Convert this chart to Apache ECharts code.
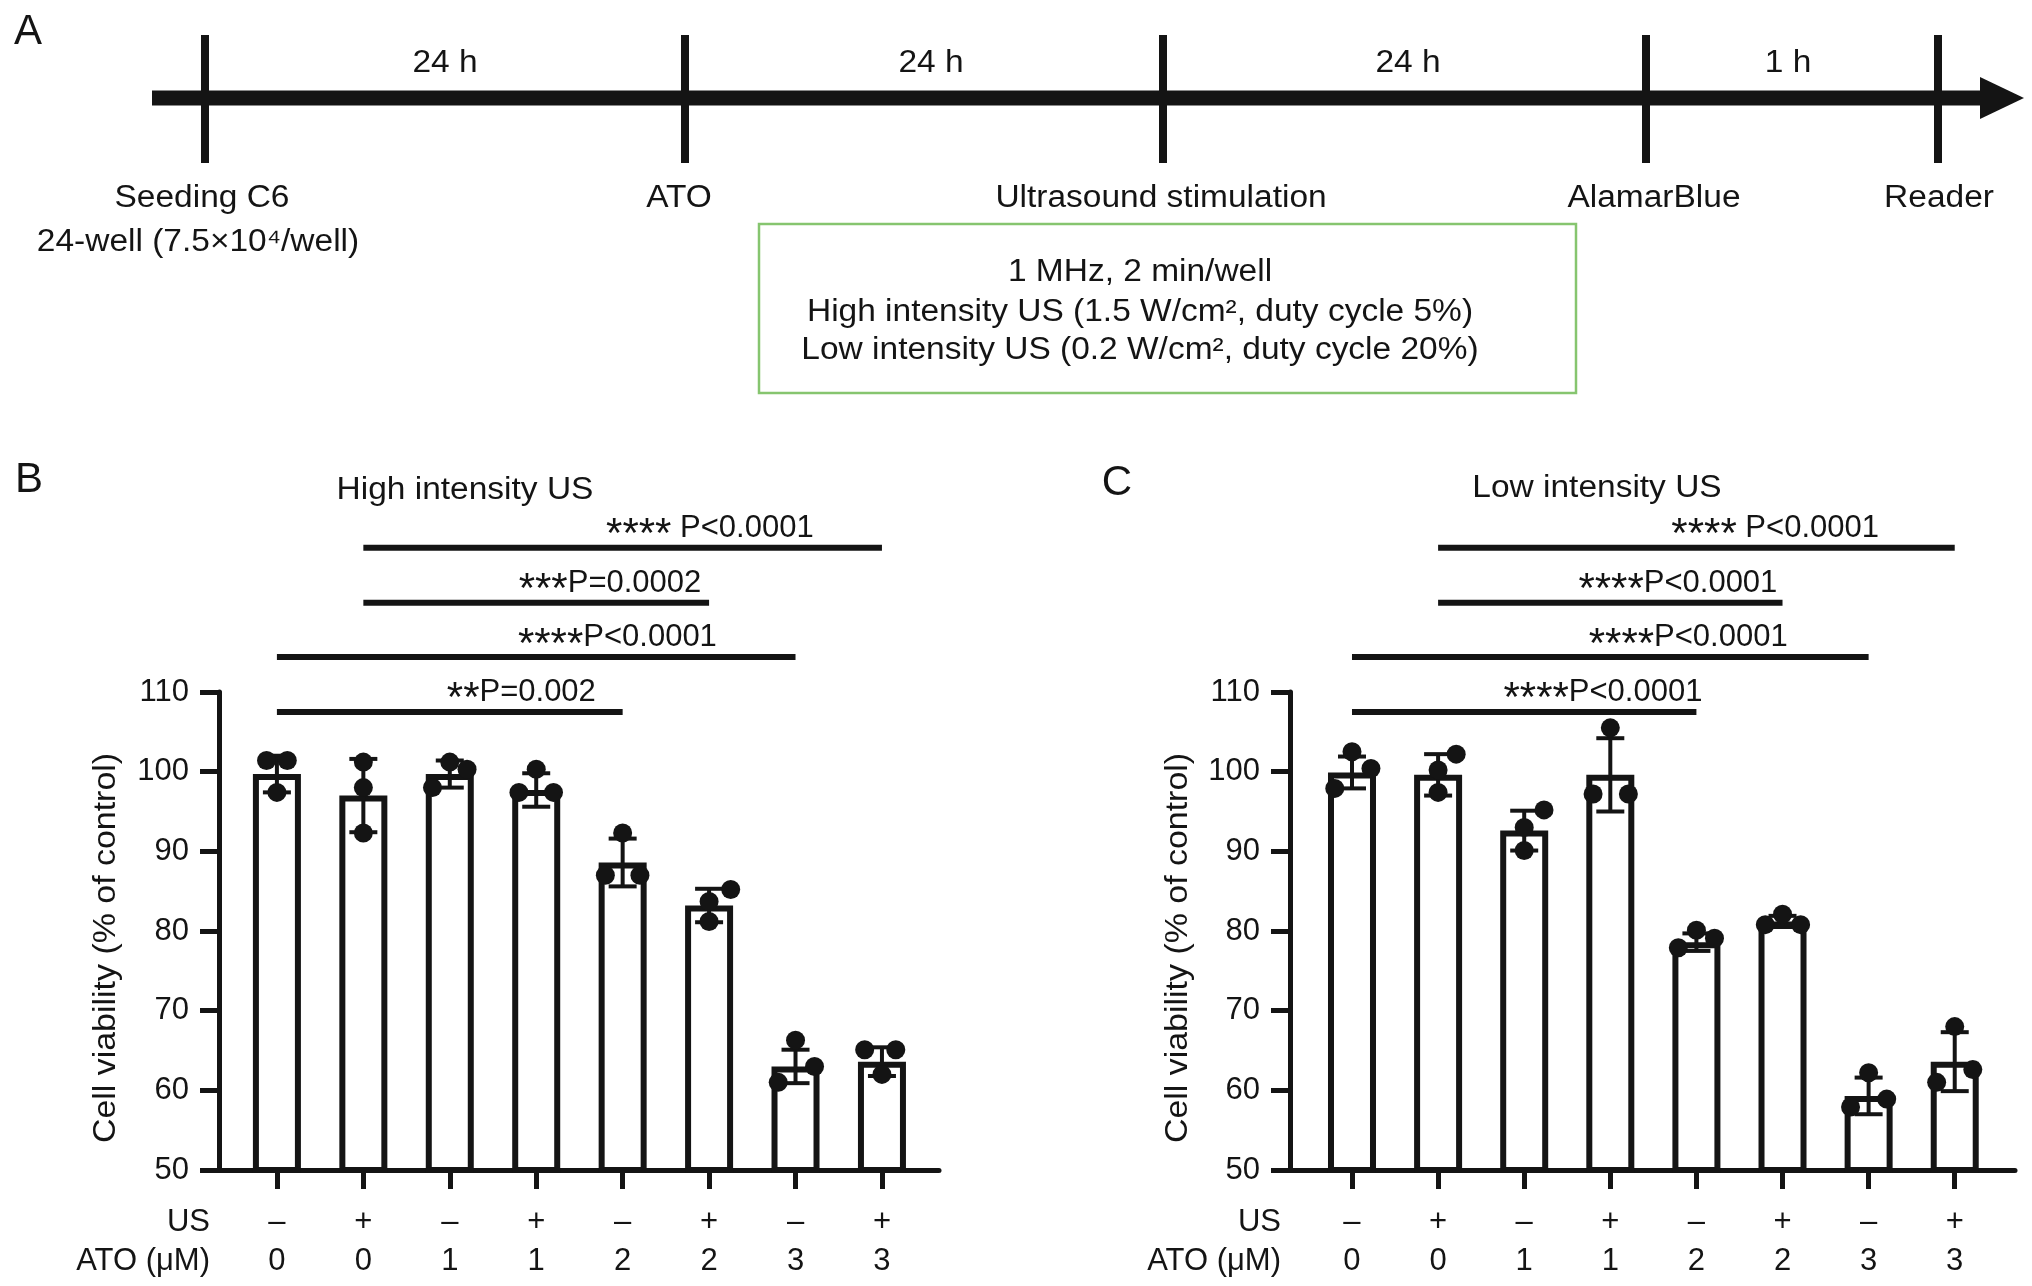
<!DOCTYPE html>
<html>
<head>
<meta charset="utf-8">
<script src="https://cdn.jsdelivr.net/npm/echarts@6/dist/echarts.min.js"></script>
<style>
html, body { margin: 0; padding: 0; background: #fff; }
#chart { width: 2032px; height: 1286px; }
</style>
</head>
<body>
<div id="chart"></div>
<script>
// ---- data ----
var usRow = ['–', '+', '–', '+', '–', '+', '–', '+'];
var atoRow = ['0', '0', '1', '1', '2', '2', '3', '3'];

// high intensity US (panel B)
var meanHigh = [99.7, 97.0, 99.7, 97.7, 88.6, 83.2, 63.0, 63.6];
var sdHigh = [2.3, 4.6, 1.7, 2.1, 3.0, 2.1, 2.1, 1.8];
var ptsHigh = [
	[101.4, 101.4, 97.4], [101.2, 98.0, 92.3], [101.2, 100.3, 98.0], [100.3, 97.4, 97.4],
	[92.3, 87.0, 87.0], [85.2, 83.7, 81.2], [66.3, 63.0, 61.0], [65.1, 65.1, 62.0]
];
// low intensity US (panel C)
var meanLow = [99.9, 99.6, 92.6, 99.6, 78.6, 81.2, 59.3, 63.6];
var sdLow = [2.0, 2.6, 2.5, 4.6, 1.1, 0.7, 2.3, 3.7];
var ptsLow = [
	[102.5, 100.4, 97.9], [102.2, 100.2, 97.4], [95.2, 93.0, 90.1], [105.5, 97.2, 97.2],
	[80.1, 79.1, 77.9], [82.1, 80.8, 80.8], [62.2, 58.9, 57.9], [68.0, 62.6, 61.0]
];

// significance comparisons (bar index pairs), bottom to top
var compPairs = [[0, 4], [0, 6], [1, 5], [1, 7]];
var starsHigh = ['**', '****', '***', '****'];
var pHigh = ['P=0.002', 'P<0.0001', 'P=0.0002', ' P<0.0001'];
var starsLow = ['****', '****', '****', '****'];
var pLow = ['P<0.0001', 'P<0.0001', 'P<0.0001', ' P<0.0001'];

// timeline (panel A)
var events = ['Seeding C6', 'ATO', 'Ultrasound stimulation', 'AlamarBlue', 'Reader'];
var durations = ['24 h', '24 h', '24 h', '1 h'];
var usParams = ['1 MHz, 2 min/well', 'High intensity US (1.5 W/cm², duty cycle 5%)', 'Low intensity US (0.2 W/cm², duty cycle 20%)'];

// ---- layout (not data) ----
var FONT = '"Liberation Sans", Arial, sans-serif';
var INK = '#141414';
var WIDE = 1.08;
var jitHigh = [[-0.12, 0.12, 0], [0, 0, 0], [0, 0.2, -0.2], [0, 0.2, -0.2], [0, -0.2, 0.2], [0.25, 0, 0], [0, 0.22, -0.2], [-0.2, 0.16, 0]];
var jitLow = [[0, 0.22, -0.2], [0.21, 0, 0], [0.23, 0, 0], [0, -0.2, 0.21], [0, 0.21, -0.21], [0, -0.2, 0.21], [0, 0.21, -0.21], [0, 0.21, -0.21]];
var sigLevels = [107.5, 114.4, 121.2, 128.1];
var sigTextHigh = [3.69, 5.09, 4.91, 6.21];
var sigTextLow = [4.07, 5.06, 4.94, 6.12];
var tickX = [205, 685, 1163, 1646, 1938];
var durX = [445, 931, 1408, 1788];
var eventX = [202, 679, 1161, 1654, 1939];

var chart = echarts.init(document.getElementById('chart'));

function xAxisFor(idx, min, max) {
	return {
		type: 'value', gridIndex: idx, min: min, max: max,
		splitLine: { show: false },
		axisLine: { show: true, onZero: false, lineStyle: { color: INK, width: 5 } },
		axisTick: { show: true, customValues: [0, 1, 2, 3, 4, 5, 6, 7], length: 19, lineStyle: { color: INK, width: 5 } },
		axisLabel: {
			customValues: [0, 1, 2, 3, 4, 5, 6, 7],
			margin: 33,
			fontFamily: FONT, fontSize: 31, color: INK, lineHeight: 39,
			formatter: function (v) {
				var i = Math.round(v);
				return usRow[i] + '\n' + atoRow[i];
			}
		}
	};
}
function yAxisFor(idx) {
	return {
		type: 'value', gridIndex: idx, min: 50, max: 110, interval: 10,
		splitLine: { show: false },
		axisLine: { show: true, onZero: false, lineStyle: { color: INK, width: 5 } },
		axisTick: { show: true, length: 19, lineStyle: { color: INK, width: 5 } },
		axisLabel: { margin: 30, fontFamily: FONT, fontSize: 31, color: INK }
	};
}

function barSeries(idx, means) {
	return {
		type: 'bar', xAxisIndex: idx, yAxisIndex: idx, barWidth: 48, z: 2,
		itemStyle: { color: '#fff', borderColor: INK, borderWidth: 6 },
		data: means.map(function (m, i) { return [i, m]; })
	};
}
function errSeries(idx, means, sds) {
	return {
		type: 'custom', xAxisIndex: idx, yAxisIndex: idx, z: 3,
		encode: { x: 0, y: 1 },
		data: means.map(function (m, i) { return [i, m, sds[i]]; }),
		renderItem: function (params, api) {
			var x = api.value(0), m = api.value(1), s = api.value(2);
			var hi = api.coord([x, m + s]), lo = api.coord([x, m - s]);
			var cw = 14;
			var st = { stroke: INK, lineWidth: 4 };
			return {
				type: 'group', children: [
					{ type: 'line', shape: { x1: hi[0], y1: hi[1], x2: lo[0], y2: lo[1] }, style: st },
					{ type: 'line', shape: { x1: hi[0] - cw, y1: hi[1], x2: hi[0] + cw, y2: hi[1] }, style: st },
					{ type: 'line', shape: { x1: lo[0] - cw, y1: lo[1], x2: lo[0] + cw, y2: lo[1] }, style: st }
				]
			};
		}
	};
}
function dotSeries(idx, pts, jit) {
	var d = [];
	pts.forEach(function (row, i) {
		row.forEach(function (v, k) { d.push([i + jit[i][k], v]); });
	});
	return {
		type: 'scatter', xAxisIndex: idx, yAxisIndex: idx, z: 4,
		symbolSize: 19, itemStyle: { color: INK, opacity: 1 },
		data: d
	};
}
function sigSeries(idx, stars, ps, textX) {
	return {
		type: 'custom', xAxisIndex: idx, yAxisIndex: idx, z: 5, clip: false,
		encode: { x: 0, y: 1 },
		data: compPairs.map(function (c, i) { return [c[0], sigLevels[i]]; }),
		renderItem: function (params, api) {
			var i = params.dataIndex, c = compPairs[i];
			var a = api.coord([c[0], sigLevels[i]]);
			var b = api.coord([c[1], sigLevels[i]]);
			var t = api.coord([textX[i], sigLevels[i]]);
			return {
				type: 'group', children: [
					{ type: 'line', shape: { x1: a[0], y1: a[1], x2: b[0], y2: b[1] }, style: { stroke: INK, lineWidth: 6 } },
					{
						type: 'text', x: t[0], y: t[1] - 19,
						style: {
							text: '{s|' + stars[i] + '}{p|' + ps[i] + '}',
							textAlign: 'right', textVerticalAlign: 'middle',
							rich: {
								s: { fontFamily: FONT, fontSize: 42, fill: INK, padding: [14, 0, 0, 0] },
								p: { fontFamily: FONT, fontSize: 31, fill: INK }
							}
						}
					}
				]
			};
		}
	};
}

function txt(x, y, s, size, align, extra) {
	var o = {
		type: 'text', x: x, y: y, scaleX: WIDE,
		style: { text: s, font: (size || 31) + 'px ' + FONT, fill: INK, textAlign: align || 'center', textVerticalAlign: 'middle' }
	};
	if (extra) for (var k in extra) o[k] = extra[k];
	return o;
}

var graphics = [];
// panel A timeline
graphics.push({ type: 'line', shape: { x1: 152, y1: 98, x2: 1990, y2: 98 }, style: { stroke: INK, lineWidth: 15 } });
graphics.push({ type: 'polygon', shape: { points: [[1980, 77], [2024, 98], [1980, 119]] }, style: { fill: INK } });
tickX.forEach(function (x) {
	graphics.push({ type: 'line', shape: { x1: x, y1: 35, x2: x, y2: 163 }, style: { stroke: INK, lineWidth: 8 } });
});
durations.forEach(function (s, i) { graphics.push(txt(durX[i], 63, s)); });
events.forEach(function (s, i) { graphics.push(txt(eventX[i], 198, s)); });
graphics.push(txt(198, 242, '24-well (7.5×10⁴/well)'));
graphics.push({ type: 'rect', shape: { x: 759, y: 224, width: 817, height: 169 }, style: { fill: 'none', stroke: '#86c56f', lineWidth: 2.5 } });
usParams.forEach(function (s, i) { graphics.push(txt(1140, [272, 312, 350][i], s)); });
// panel letters and titles
graphics.push(txt(28, 32, 'A', 42, 'center', { scaleX: 1 }));
graphics.push(txt(29, 480, 'B', 42, 'center', { scaleX: 1 }));
graphics.push(txt(1117, 483, 'C', 42, 'center', { scaleX: 1 }));
graphics.push(txt(465, 490, 'High intensity US'));
graphics.push(txt(1597, 488, 'Low intensity US'));
// axis names
graphics.push(txt(106, 948, 'Cell viability (% of control)', 32, 'center', { rotation: Math.PI / 2, scaleX: 1.06 }));
graphics.push(txt(1178, 948, 'Cell viability (% of control)', 32, 'center', { rotation: Math.PI / 2, scaleX: 1.06 }));
graphics.push(txt(210, 1222, 'US', 31, 'right', { scaleX: 1 }));
graphics.push(txt(210, 1261, 'ATO (μM)', 31, 'right', { scaleX: 1 }));
graphics.push(txt(1281, 1222, 'US', 31, 'right', { scaleX: 1 }));
graphics.push(txt(1281, 1261, 'ATO (μM)', 31, 'right', { scaleX: 1 }));

var option = {
	backgroundColor: '#fff',
	animation: false,
	grid: [
		{ left: 219, top: 692, width: 720, height: 478 },
		{ left: 1290, top: 692, width: 725, height: 478 }
	],
	xAxis: [xAxisFor(0, -0.67, 7.66), xAxisFor(1, -0.72, 7.7)],
	yAxis: [yAxisFor(0), yAxisFor(1)],
	series: [
		barSeries(0, meanHigh), errSeries(0, meanHigh, sdHigh), dotSeries(0, ptsHigh, jitHigh), sigSeries(0, starsHigh, pHigh, sigTextHigh),
		barSeries(1, meanLow), errSeries(1, meanLow, sdLow), dotSeries(1, ptsLow, jitLow), sigSeries(1, starsLow, pLow, sigTextLow)
	],
	graphic: graphics
};
chart.setOption(option);
</script>
</body>
</html>
